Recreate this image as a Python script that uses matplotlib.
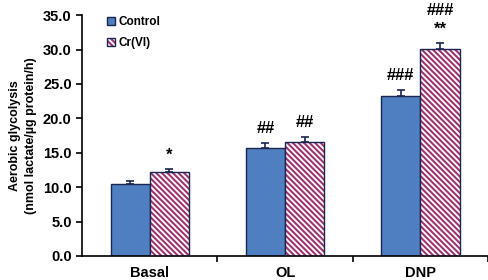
import matplotlib
matplotlib.use("Agg")
import matplotlib.pyplot as plt
from matplotlib.legend_handler import HandlerTuple
import numpy as np

categories = ["Basal", "OL", "DNP"]
control = [10.4, 15.7, 23.2]
control_err = [0.5, 0.7, 0.9]
crvi = [12.2, 16.5, 30.1]
crvi_err = [0.4, 0.8, 0.8]
ctrl_marks = ["", "##", "###"]
cr_marks = ["*", "##", "###\n**"]

plt.rcParams['font.family'] = ['Liberation Sans', 'DejaVu Sans']
plt.rcParams['hatch.linewidth'] = 1.5

fig = plt.figure(figsize=(4.89, 2.80), dpi=100)
ax = fig.add_axes([0.168, 0.086, 0.830, 0.860])

x = np.arange(len(categories))
w = 0.29
dark = '#1A2550'
pink = '#9E3470'
ekw = dict(ecolor=dark, capsize=3, elinewidth=1.2, capthick=1.2)

b1 = ax.bar(x - w/2, control, w, color='#4F7FC0', edgecolor=dark, linewidth=1.0,
            yerr=[np.zeros(3), control_err], error_kw=ekw, zorder=2)
h2 = ax.bar(x + w/2, crvi, w, color='white', edgecolor=pink, linewidth=0, hatch='\\\\\\\\\\\\', zorder=2)
o2 = ax.bar(x + w/2, crvi, w, fill=False, edgecolor=dark, linewidth=1.0,
            yerr=[np.zeros(3), crvi_err], error_kw=ekw, zorder=3)

for i in range(3):
    if ctrl_marks[i]:
        ax.text(x[i] - w/2, control[i] + control_err[i] + 1.0, ctrl_marks[i], ha='center', va='bottom',
                fontsize=12, fontweight='bold', clip_on=False)
    ax.text(x[i] + w/2, crvi[i] + crvi_err[i] + 1.0, cr_marks[i], ha='center', va='bottom',
            fontsize=12, fontweight='bold', clip_on=False, linespacing=1.3)

ax.set_xlim(-0.5, 2.5)
ax.set_ylim(0, 35)
yt = np.arange(0, 35.1, 5)
ax.set_yticks(yt)
ax.set_yticklabels([f"{v:.1f}" for v in yt], fontsize=10.5, fontweight='bold')
ax.set_xticks(x)
ax.set_xticklabels(categories, fontsize=10.5, fontweight='bold')
ax.tick_params(axis='x', length=0, pad=7)
ax.set_xticks([0.5, 1.5, 2.5], minor=True)
ax.tick_params(axis='x', which='minor', length=4, width=1.2, direction='out')
ax.tick_params(axis='y', length=4, width=1.2, direction='out')
for s in ['top', 'right']:
    ax.spines[s].set_visible(False)
for s in ['left', 'bottom']:
    ax.spines[s].set_linewidth(1.2)

ax.set_ylabel("Aerobic glycolysis\n(nmol lactate/\u00b5g protein/h)", fontsize=9, fontweight='bold',
              labelpad=4, linespacing=1.5)

ax.legend([b1[0], (h2[0], o2[0])], ['Control', 'Cr(VI)'], loc='upper left', bbox_to_anchor=(0.035, 1.04),
          frameon=False, prop={'weight': 'bold', 'size': 8.5}, handlelength=0.7, handleheight=0.7,
          handletextpad=0.3, labelspacing=0.75, handler_map={tuple: HandlerTuple(ndivide=1)})

fig.savefig("out.png", dpi=100)
